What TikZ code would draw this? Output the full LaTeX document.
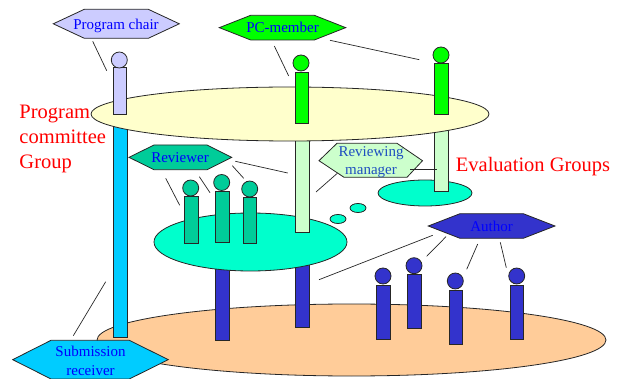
\documentclass[tikz,border=0pt]{standalone}
\usepackage{fontspec}
\setmainfont{Liberation Serif}
\definecolor{lav}{HTML}{CCCCFF}
\definecolor{lime}{HTML}{00FF00}
\definecolor{cream}{HTML}{FFFFCC}
\definecolor{sky}{HTML}{00CCFF}
\definecolor{teal1}{HTML}{00CC99}
\definecolor{aqua}{HTML}{00FFCC}
\definecolor{pale}{HTML}{CCFFCC}
\definecolor{indi}{HTML}{3333CC}
\definecolor{peach}{HTML}{FFCC99}
\definecolor{mgrblue}{HTML}{1F4FC0}
\tikzset{
  x=1pt,y=-1pt,
  shp/.style={draw=black!85,line width=0.8pt},
  lnk/.style={draw=black!85,line width=0.7pt},
  lab/.style={text=blue,font=\fontsize{15}{18}\selectfont,align=center,inner sep=0pt,anchor=base},
  lab2/.style={text=blue,font=\fontsize{15}{18.5}\selectfont,align=center,inner sep=0pt},
  big/.style={text=red,font=\fontsize{20.5}{25}\selectfont,inner sep=0pt,anchor=base west},
}
% #1 fill, #2 left, #3 inner left, #4 inner right, #5 right, #6 top, #7 bottom
\newcommand{\hexa}[7]{\path[shp,fill=#1] (#2,{(#6+#7)/2}) -- (#3,#6) -- (#4,#6) -- (#5,{(#6+#7)/2}) -- (#4,#7) -- (#3,#7) -- cycle;}
% #1 fill, #2 x0, #3 x1, #4 y0, #5 y1
\newcommand{\post}[5]{\path[shp,fill=#1] (#2,#4) rectangle (#3,#5);}
% #1 fill, #2 x, #3 y
\newcommand{\headc}[3]{\path[shp,fill=#1] (#2,#3) circle[radius=8];}
\begin{document}
\begin{tikzpicture}
\useasboundingbox (0,0) rectangle (621,379);
% bottom ellipse and what stands on it
\path[shp,fill=peach] (351.5,340) ellipse[x radius=254.5,y radius=36];
\post{sky}{113}{127.5}{120}{337}
\post{indi}{215.5}{229.5}{262}{340}
\post{indi}{295}{309}{262}{327}
% evaluation groups
\path[shp,fill=aqua] (250.5,242) ellipse[x radius=96.5,y radius=29];
\path[shp,fill=aqua] (425,193) ellipse[x radius=47,y radius=13];
\path[shp,fill=aqua] (358,208) ellipse[x radius=8,y radius=4.5];
\path[shp,fill=aqua] (338,219) ellipse[x radius=8,y radius=4.5];
\post{pale}{295}{309}{130}{232}
\post{pale}{434}{448}{125}{191.5}
% programme committee
\path[shp,fill=cream] (290,114) ellipse[x radius=199,y radius=27];
\post{lav}{113.3}{126.7}{67}{114}
\headc{lav}{119.3}{60}
\post{lime}{295}{308.3}{72}{123}
\headc{lime}{301}{63}
\post{lime}{434.3}{448}{63}{114}
\headc{lime}{441}{55}
% reviewers
\post{teal1}{184.5}{198}{196}{243}
\headc{teal1}{190.7}{188}
\post{teal1}{215.5}{229}{191}{242}
\headc{teal1}{221.7}{182.5}
\post{teal1}{243.3}{256.7}{197}{243.7}
\headc{teal1}{249.7}{189}
% authors
\post{indi}{376.7}{390.3}{285}{339}
\headc{indi}{383}{276}
\post{indi}{407.7}{421}{274.3}{328.7}
\headc{indi}{414}{265.7}
\post{indi}{449}{462.7}{290}{344}
\headc{indi}{455.3}{281}
\post{indi}{510.7}{523.7}{285}{339}
\headc{indi}{516.7}{276}
% role hexagons
\hexa{lav}{53.3}{84.3}{148.3}{179.3}{9.3}{38.3}
\node[lab] (chair) at (116,30) {Program chair};
\hexa{lime}{219.3}{250.7}{314.3}{345.7}{15.3}{40}
\node[lab] (member) at (282.5,32.5) {PC-member};
\hexa{teal1}{129}{154}{207}{231.7}{145}{169.7}
\node[lab] (reviewer) at (180,162.7) {Reviewer};
\path[shp,fill=pale] (319,160.7) -- (337,143.3) -- (397,143.3) -- (422.5,160.7) -- (407,177.3) -- (344,177.3) -- cycle;
\node[lab2,text=mgrblue] (manager) at (371,162) {Reviewing\\manager};
\hexa{sky}{12.7}{51}{129.3}{168.3}{340.3}{379}
\node[lab2] (receiver) at (90.5,361) {Submission\\receiver};
\hexa{indi}{428.3}{460}{523.3}{555}{213.7}{238.3}
\node[lab] (author) at (491.5,231.7) {Author};
% free line ends
\foreach \n/\x/\y in {
  a/92.7/41.3, b/106.7/70.7,
  c/274.3/46, d/288.7/76, e/330/40.3, f/419.3/59.7,
  g/235.3/161.3, h/287.7/173, i/232.3/165.7, j/243.7/178.3,
  k/199.3/176.7, l/210/192.7, m/165.7/178.3, n/179.7/205.3,
  o/337.3/173.3, p/316/192, q/410/169.3, r/436.7/169.3,
  s/73.3/335.7, t/105.7/281.7,
  u/432.7/235.3, v/319/279.7, w/446/236.7, y/426.7/256.3,
  z/477.7/244, A/466.7/269.3, B/500.3/242.3, C/506.3/267.7}
  {\coordinate (\n) at (\x,\y);}
\foreach \p/\q in {a/b,c/d,e/f,g/h,i/j,k/l,m/n,o/p,q/r,s/t,u/v,w/y,z/A,B/C}
  \draw[lnk] (\p) -- (\q);
% group titles
\node[big] (pcg) at (19.3,118.3) {Program};
\node[big] (pcg2) at (19.3,143.3) {committee};
\node[big] (pcg3) at (19.3,168.3) {Group};
\node[big] (evg) at (455.7,171.7) {Evaluation Groups};
\end{tikzpicture}
\end{document}
